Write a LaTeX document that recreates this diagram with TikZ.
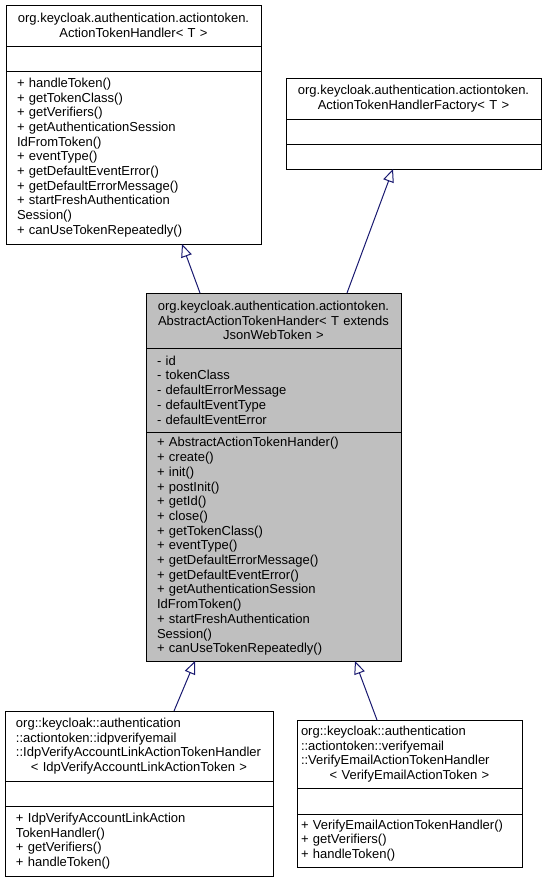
\documentclass[tikz,border=0pt]{standalone}
\usepackage{fontspec}
\setmainfont{Liberation Sans}
\usetikzlibrary{arrows.meta}
\definecolor{edgeblue}{HTML}{191970}
\definecolor{classgray}{HTML}{BFBFBF}
\hyphenpenalty=10000
\exhyphenpenalty=10000

\begin{document}
\begin{tikzpicture}[x=1pt, y=-1pt,
    umlpart/.style  = {draw, line width=1pt, anchor=north west, outer sep=0pt, inner ysep=0pt,
                       font=\fontsize{13}{14.7}\selectfont},
    umltitle/.style = {umlpart, align=center, inner xsep=5pt, text width=245pt},
    umlbody/.style  = {umlpart, align=left, inner xsep=11pt, text width=233pt},
    inherit/.style  = {draw=edgeblue, line width=1pt, -{Triangle[open, length=13pt, width=11pt]}}]
    \useasboundingbox (0,0) rectangle (547,881);

    % ActionTokenHandler
    \node[umltitle, minimum height=41pt] (handler-title) at (6,5)
        {org.keycloak.authentication.actiontoken.\\ActionTokenHandler< T >};
    \node[umlbody, minimum height=25pt] (handler-attr) at (handler-title.south west) {};
    \node[umlbody, minimum height=173pt] (handler-ops) at (handler-attr.south west)
        {+ handleToken()\\+ getTokenClass()\\+ getVerifiers()\\+ getAuthenticationSession\\IdFromToken()\\+ eventType()\\+ getDefaultEventError()\\+ getDefaultErrorMessage()\\+ startFreshAuthentication\\Session()\\+ canUseTokenRepeatedly()};

    % ActionTokenHandlerFactory
    \node[umltitle, minimum height=41pt] (factory-title) at (286,78)
        {org.keycloak.authentication.actiontoken.\\ActionTokenHandlerFactory< T >};
    \node[umlbody, minimum height=25pt] (factory-attr) at (factory-title.south west) {};
    \node[umlbody, minimum height=25pt] (factory-ops) at (factory-attr.south west) {};

    % AbstractActionTokenHander
    \node[umltitle, fill=classgray, minimum height=55pt] (abstract-title) at (146,293)
        {org.keycloak.authentication.actiontoken.\\AbstractActionTokenHander< T extends\\JsonWebToken >};
    \node[umlbody, fill=classgray, minimum height=84pt] (abstract-attr) at (abstract-title.south west)
        {- id\\- tokenClass\\- defaultErrorMessage\\- defaultEventType\\- defaultEventError};
    \node[umlbody, fill=classgray, minimum height=229pt] (abstract-ops) at (abstract-attr.south west)
        {+ AbstractActionTokenHander()\\+ create()\\+ init()\\+ postInit()\\+ getId()\\+ close()\\+ getTokenClass()\\+ eventType()\\+ getDefaultErrorMessage()\\+ getDefaultEventError()\\+ getAuthenticationSession\\IdFromToken()\\+ startFreshAuthentication\\Session()\\+ canUseTokenRepeatedly()};

    % IdpVerifyAccountLinkActionTokenHandler
    \node[umlbody, text width=246pt, minimum height=70pt] (idp-title) at (5,711)
        {org::keycloak::authentication\\::actiontoken::idpverifyemail\\::IdpVerifyAccountLinkActionTokenHandler\\\makebox[\hsize]{< IdpVerifyAccountLinkActionToken >}};
    \node[umlbody, text width=246pt, minimum height=25pt] (idp-attr) at (idp-title.south west) {};
    \node[umlbody, text width=246pt, minimum height=70pt] (idp-ops) at (idp-attr.south west)
        {+ IdpVerifyAccountLinkAction\\TokenHandler()\\+ getVerifiers()\\+ handleToken()};

    % VerifyEmailActionTokenHandler
    \node[umlbody, inner xsep=4pt, text width=217pt, minimum height=68pt] (verify-title) at (297,720)
        {org::keycloak::authentication\\::actiontoken::verifyemail\\::VerifyEmailActionTokenHandler\\\makebox[\hsize]{< VerifyEmailActionToken >}};
    \node[umlbody, inner xsep=4pt, text width=217pt, minimum height=26pt] (verify-attr) at (verify-title.south west) {};
    \node[umlbody, inner xsep=4pt, text width=217pt, minimum height=53pt] (verify-ops) at (verify-attr.south west)
        {+ VerifyEmailActionTokenHandler()\\+ getVerifiers()\\+ handleToken()};

    % inheritance
    \draw[inherit] ([xshift=54pt]abstract-title.north west) -- ([xshift=176pt]handler-ops.south west);
    \draw[inherit] ([xshift=201pt]abstract-title.north west) -- ([xshift=107pt]factory-ops.south west);
    \draw[inherit] ([xshift=169pt]idp-title.north west) -- ([xshift=49pt]abstract-ops.south west);
    \draw[inherit] ([xshift=80pt]verify-title.north west) -- ([xshift=209pt]abstract-ops.south west);
\end{tikzpicture}
\end{document}
